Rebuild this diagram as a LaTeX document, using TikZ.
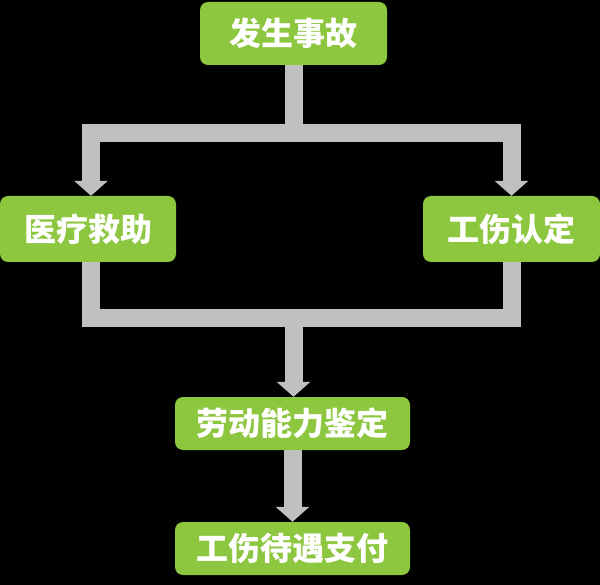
\documentclass[tikz,border=0pt]{standalone}
\usepackage{fontspec}
\setmainfont{Noto Sans CJK SC}
\usetikzlibrary{arrows.meta}
\definecolor{boxgreen}{RGB}{141,198,63}
\definecolor{conngray}{RGB}{192,192,192}
\begin{document}
\begin{tikzpicture}[x=1pt,y=-1pt,
  flowbox/.style={fill=boxgreen,rounded corners=8pt,text=white,inner sep=0pt,
    font=\fontsize{32}{32}\selectfont\bfseries},
  conn/.style={draw=conngray,line width=18pt,line join=miter},
  tip/.style={-{Triangle[width=33pt,length=15pt,fill=conngray]}}]
\fill[black] (0,0) rectangle (600,585);
\useasboundingbox (0,0) rectangle (600,585);
\node[flowbox,minimum width=187pt,minimum height=63pt] (top) at (293.5,33.5) {发生事故};
\node[flowbox,minimum width=176pt,minimum height=66pt] (left) at (88,229) {医疗救助};
\node[flowbox,minimum width=177pt,minimum height=66pt] (right) at (511.5,229) {工伤认定};
\node[flowbox,minimum width=235pt,minimum height=53pt] (eval) at (292.5,423.5) {劳动能力鉴定};
\node[flowbox,minimum width=235pt,minimum height=53pt] (pay) at (292.5,548.5) {工伤待遇支付};
\coordinate (jc) at (293.5,133.5);
\coordinate (jb) at (293.5,318);
\draw[conn] (top.south) -- (jc);
\draw[conn,tip] (jc) -| ([xshift=3pt]left.north);
\draw[conn,tip] (jc) -| (right.north);
\draw[conn] ([xshift=3pt]left.south) |- (jb);
\draw[conn] (right.south) |- (jb);
\draw[conn,tip] (jb) -- (jb |- eval.north);
\draw[conn,tip] (eval.south) -- (pay.north);
\end{tikzpicture}
\end{document}
